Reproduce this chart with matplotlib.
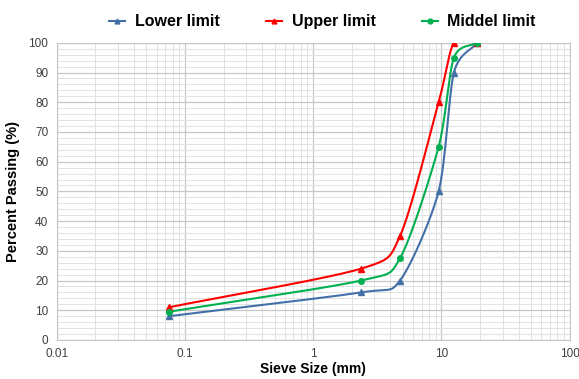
import numpy as np
import matplotlib
matplotlib.use("Agg")
import matplotlib.pyplot as plt
from matplotlib.ticker import FixedLocator, NullFormatter, MultipleLocator

plt.rcParams['font.family'] = ['Liberation Sans', 'DejaVu Sans']

# sieve sizes (mm) and percent passing
sieve = [0.075, 2.36, 4.75, 9.5, 12.5, 19]
lower = [8, 16, 20, 50, 90, 100]
upper = [11, 24, 35, 80, 100, 100]
middle = [9.5, 20, 27.5, 65, 95, 100]


def smooth(xs, ys, n=40):
    # catmull-rom through the points in log-x space, like excel "smoothed line"
    lx = np.log10(xs)
    y = np.array(ys, dtype=float)
    px = np.concatenate([[2 * lx[0] - lx[1]], lx, [2 * lx[-1] - lx[-2]]])
    py = np.concatenate([[2 * y[0] - y[1]], y, [2 * y[-1] - y[-2]]])
    outx, outy = [], []
    for i in range(1, len(px) - 2):
        t = np.linspace(0, 1, n)
        for arr, out in ((px, outx), (py, outy)):
            p0, p1, p2, p3 = arr[i - 1], arr[i], arr[i + 1], arr[i + 2]
            m1 = (p2 - p0) / 2 * 0.8
            m2 = (p3 - p1) / 2 * 0.8
            h00 = 2 * t**3 - 3 * t**2 + 1
            h10 = t**3 - 2 * t**2 + t
            h01 = -2 * t**3 + 3 * t**2
            h11 = t**3 - t**2
            out.extend(h00 * p1 + h10 * m1 + h01 * p2 + h11 * m2)
    return 10 ** np.array(outx), np.array(outy)


fig = plt.figure(figsize=(5.79, 3.79), dpi=100)
ax = fig.add_axes([0.098, 0.103, 0.886, 0.784])

series = [
    ("Lower limit", lower, "#4470a8", "^", 4),
    ("Upper limit", upper, "#ff0000", "^", 4),
    ("Middel limit", middle, "#00b050", "o", 4),
]
handles = []
for name, vals, col, mk, ms in series:
    sx, sy = smooth(sieve, vals)
    ax.plot(sx, sy, color=col, lw=1.5, zorder=3)
    ax.plot(sieve, vals, ls="none", marker=mk, color=col, ms=ms, zorder=4)
    h, = ax.plot([], [], color=col, lw=1.5, marker=mk, ms=3.5)
    handles.append(h)

ax.set_xscale("log")
ax.set_xlim(0.01, 100)
ax.set_ylim(0, 100)
ax.set_xticks([0.01, 0.1, 1, 10, 100])
ax.set_xticklabels(["0.01", "0.1", "1", "10", "100"])
minors = [m * 10.0**e for e in range(-2, 2) for m in range(2, 10)]
ax.xaxis.set_minor_locator(FixedLocator(minors))
ax.xaxis.set_minor_formatter(NullFormatter())
ax.yaxis.set_major_locator(MultipleLocator(10))
ax.yaxis.set_minor_locator(MultipleLocator(2))
ax.grid(which="major", color="#c8c8c8", lw=0.9)
ax.grid(which="minor", color="#e2e2e2", lw=0.7)
ax.set_axisbelow(True)
ax.tick_params(which="both", length=0, labelsize=8.5, colors="#404040", pad=6)
for s in ax.spines.values():
    s.set_color("#c8c8c8")

ax.set_xlabel("Sieve Size (mm)", fontsize=10, fontweight="bold", labelpad=1)
ax.set_ylabel("Percent Passing (%)", fontsize=10.5, fontweight="bold", labelpad=6)

fig.legend(handles, [s[0] for s in series], loc="upper center",
           bbox_to_anchor=(0.557, 1.0), ncol=3, frameon=False,
           prop={"weight": "bold", "size": 11.5}, handlelength=1.0,
           columnspacing=2.9, handletextpad=0.6)

fig.savefig("out.png", dpi=100)
